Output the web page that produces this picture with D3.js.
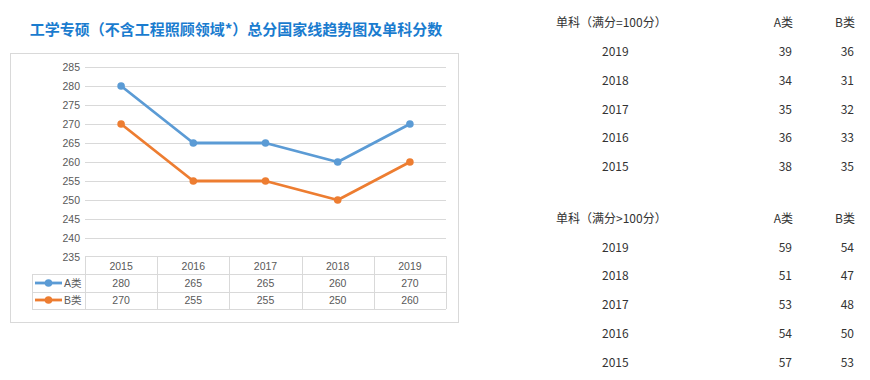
<!DOCTYPE html>
<html>
<head>
<meta charset="utf-8">
<script src="https://d3js.org/d3.v7.min.js"></script>
<style>
  body { margin: 0; background: #fff; }
  svg { display: block; }
</style>
</head>
<body>
<svg width="870" height="380"></svg>
<script>
const years = ["2015", "2016", "2017", "2018", "2019"];
const seriesNames = ["A类", "B类"];
const totalA = [280, 265, 265, 260, 270];
const totalB = [270, 255, 255, 250, 260];
const yTicks = [235, 240, 245, 250, 255, 260, 265, 270, 275, 280, 285];

const subjYears = ["2019", "2018", "2017", "2016", "2015"];
const sub100A = [39, 34, 35, 36, 38];
const sub100B = [36, 31, 32, 33, 35];
const subOverA = [59, 51, 53, 54, 57];
const subOverB = [54, 47, 48, 50, 53];

const colors = ["#5b9bd5", "#ed7d31"];
const series = [totalA, totalB];

const svg = d3.select("svg");

// title
svg.append("text")
   .attr("x", 236).attr("y", 35)
   .attr("text-anchor", "middle")
   .attr("font-family", "'Noto Sans CJK SC'")
   .attr("font-weight", "bold")
   .attr("font-size", "15px")
   .attr("fill", "#1a7ccf")
   .text("工学专硕（不含工程照顾领域*）总分国家线趋势图及单科分数");

// chart frame
svg.append("rect")
   .attr("x", 10.5).attr("y", 53.5)
   .attr("width", 448).attr("height", 269)
   .attr("fill", "none").attr("stroke", "#d9d9d9");

const x = d3.scaleBand().domain(years).range([85, 446]);
const y = d3.scaleLinear().domain([235, 285]).range([257, 67]);

// gridlines
svg.append("g").selectAll("line")
   .data(yTicks.filter(d => d > 235))
   .join("line")
   .attr("x1", 85).attr("x2", 446)
   .attr("y1", d => Math.round(y(d)) + 0.5).attr("y2", d => Math.round(y(d)) + 0.5)
   .attr("stroke", "#d9d9d9");

// y axis labels
const yAxis = svg.append("g")
   .attr("transform", "translate(80,0)")
   .call(d3.axisLeft(y).tickValues(yTicks).tickSize(0).tickPadding(0));
yAxis.select(".domain").remove();
yAxis.selectAll("text")
   .attr("font-family", "'Liberation Sans', Arial")
   .attr("font-size", "10.5px")
   .attr("fill", "#595959");

// lines
const line = d3.line().x((d, i) => x(years[i]) + x.bandwidth() / 2).y(d => y(d));
series.forEach((s, k) => {
  svg.append("path")
     .datum(s)
     .attr("d", line)
     .attr("fill", "none")
     .attr("stroke", colors[k])
     .attr("stroke-width", 2.8)
     .attr("stroke-linejoin", "round");
  svg.append("g").selectAll("circle")
     .data(s)
     .join("circle")
     .attr("cx", (d, i) => x(years[i]) + x.bandwidth() / 2)
     .attr("cy", d => y(d))
     .attr("r", 3.8)
     .attr("fill", colors[k]);
});

// data table
const rowTops = [256, 274, 291.5, 308.5];
const tbl = svg.append("g").attr("stroke", "#d9d9d9").attr("fill", "none");
tbl.append("line").attr("x1", 85).attr("x2", 446).attr("y1", rowTops[0] + 0.5).attr("y2", rowTops[0] + 0.5);
[1, 2, 3].forEach(r => {
  tbl.append("line").attr("x1", 32).attr("x2", 446)
     .attr("y1", Math.round(rowTops[r]) + 0.5).attr("y2", Math.round(rowTops[r]) + 0.5);
});
tbl.append("line").attr("x1", 32.5).attr("x2", 32.5).attr("y1", 274).attr("y2", 309);
years.concat(["end"]).forEach((yr, i) => {
  const xx = Math.round(85 + i * x.bandwidth()) + 0.5;
  tbl.append("line").attr("x1", xx).attr("x2", xx).attr("y1", 256).attr("y2", 309);
});

const cellText = (sel) => sel
   .attr("font-family", "'Liberation Sans', Arial")
   .attr("font-size", "10.5px")
   .attr("fill", "#595959")
   .attr("text-anchor", "middle")
   .attr("dominant-baseline", "central");

svg.append("g").selectAll("text")
   .data(years).join("text")
   .attr("x", d => x(d) + x.bandwidth() / 2)
   .attr("y", 265.5)
   .text(d => d)
   .call(cellText);

const rowMid = [283, 300];
series.forEach((s, k) => {
  svg.append("g").selectAll("text")
     .data(s).join("text")
     .attr("x", (d, i) => x(years[i]) + x.bandwidth() / 2)
     .attr("y", rowMid[k])
     .text(d => d)
     .call(cellText);
  // legend key
  svg.append("line")
     .attr("x1", 35).attr("x2", 62)
     .attr("y1", rowMid[k]).attr("y2", rowMid[k])
     .attr("stroke", colors[k]).attr("stroke-width", 2.8);
  svg.append("circle")
     .attr("cx", 48.5).attr("cy", rowMid[k]).attr("r", 3.8)
     .attr("fill", colors[k]);
  svg.append("text")
     .attr("x", 64).attr("y", rowMid[k])
     .attr("font-family", "'Liberation Sans', 'Noto Sans CJK SC'")
     .attr("font-size", "10.5px")
     .attr("fill", "#595959")
     .attr("dominant-baseline", "central")
     .text(seriesNames[k]);
});

// right-hand single-subject tables
function subjectTable(top, title, aVals, bVals) {
  const g = svg.append("g")
     .attr("font-family", "'Noto Sans CJK SC'")
     .attr("font-size", "12px")
     .attr("fill", "#333");
  g.append("text").attr("x", 556).attr("y", top).attr("dominant-baseline", "central").text(title);
  g.append("text").attr("x", 793).attr("y", top).attr("text-anchor", "end").attr("dominant-baseline", "central").text(seriesNames[0]);
  g.append("text").attr("x", 855).attr("y", top).attr("text-anchor", "end").attr("dominant-baseline", "central").text(seriesNames[1]);
  const rowY = d3.scalePoint().domain(subjYears).range([top + 29, top + 144]);
  g.selectAll(".yr").data(subjYears).join("text")
   .attr("x", 602).attr("y", d => rowY(d)).attr("dominant-baseline", "central").text(d => d);
  g.selectAll(".a").data(aVals).join("text")
   .attr("x", 792).attr("y", (d, i) => rowY(subjYears[i])).attr("text-anchor", "end")
   .attr("dominant-baseline", "central").text(d => d);
  g.selectAll(".b").data(bVals).join("text")
   .attr("x", 854).attr("y", (d, i) => rowY(subjYears[i])).attr("text-anchor", "end")
   .attr("dominant-baseline", "central").text(d => d);
}
subjectTable(21.5, "单科（满分=100分）", sub100A, sub100B);
subjectTable(217, "单科（满分>100分）", subOverA, subOverB);
</script>
</body>
</html>
